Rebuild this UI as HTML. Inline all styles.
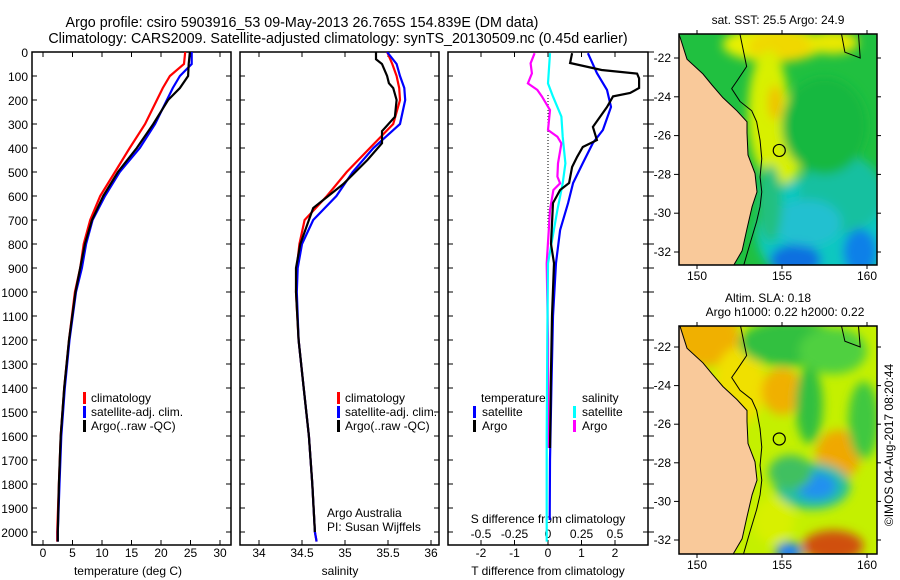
<!DOCTYPE html>
<html><head><meta charset="utf-8"><style>
body{margin:0;background:#fff;}
svg{display:block;font-family:"Liberation Sans",sans-serif;}
text{font-size:12px;fill:#000;}
</style></head><body>
<svg id="fig" width="900" height="580" viewBox="0 0 900 580">
<defs>
<clipPath id="c1"><rect x="32" y="52" width="199" height="493"/></clipPath>
<clipPath id="c2"><rect x="240" y="52" width="199" height="493"/></clipPath>
<clipPath id="c3"><rect x="448" y="52" width="200" height="493"/></clipPath>
<clipPath id="cm1"><rect x="679" y="34" width="198" height="231"/></clipPath>
<clipPath id="cm2"><rect x="679" y="326" width="198" height="228"/></clipPath>
<filter id="bl" x="-50%" y="-50%" width="200%" height="200%"><feGaussianBlur stdDeviation="5"/></filter>
</defs>
<text x="302" y="27" text-anchor="middle" style="font-size:14.3px">Argo profile: csiro 5903916_53 09-May-2013 26.765S 154.839E (DM data)</text>
<text x="338" y="43" text-anchor="middle" style="font-size:14.3px">Climatology: CARS2009. Satellite-adjusted climatology: synTS_20130509.nc (0.45d earlier)</text>
<text x="778" y="24" text-anchor="middle">sat. SST: 25.5 Argo: 24.9</text>
<text x="768" y="302" text-anchor="middle">Altim. SLA: 0.18</text>
<text x="785" y="316" text-anchor="middle">Argo h1000: 0.22 h2000: 0.22</text>
<text transform="translate(893,445) rotate(-90)" text-anchor="middle">©IMOS 04-Aug-2017 08:20:44</text>
<g id="g"></g>
</svg>
<script>
// ---- data ----
const depthsStd = [0,50,100,150,200,300,400,500,600,700,800,900,1000,1200,1400,1600,1800,2000,2040];
const tempClim = [24.1,23.9,21.5,20.3,19.3,17.3,14.7,12.2,9.7,8.0,6.9,6.3,5.4,4.4,3.6,3.0,2.7,2.4,2.4];
const tempSat  = [25.2,25.2,23.2,22.0,21.0,19.0,16.4,13.0,10.5,8.4,7.3,6.6,5.6,4.5,3.7,3.1,2.8,2.5,2.5];
const tempArgo = [24.9,24.7,24.6,23.2,21.2,18.7,15.9,12.7,10.2,8.3,7.1,6.3,5.5,4.4,3.6,3.0,2.7,2.5,2.5];
const salClim = [35.49,35.55,35.6,35.63,35.64,35.56,35.29,35.02,34.79,34.53,34.47,34.44,34.43,34.46,34.52,34.58,34.62,34.65,34.67];
const salSat  = [35.49,35.6,35.64,35.69,35.70,35.64,35.33,35.09,34.9,34.63,34.50,34.45,34.44,34.46,34.52,34.58,34.62,34.65,34.67];
const salArgoDepths = [0,30,50,100,130,150,200,270,330,380,450,550,650,800,900,1000,1200,1400,1600,1800,2000];
const salArgo = [35.36,35.36,35.43,35.49,35.51,35.56,35.6,35.58,35.43,35.43,35.26,34.98,34.63,34.48,34.43,34.43,34.46,34.52,34.58,34.62,34.65];
const dTArgoDepths = [5,46,75,90,110,150,171,185,229,312,367,396,437,479,546,575,629,800,880,1100,1400,1650];
const dTArgo = [0.72,0.66,1.6,2.66,2.72,2.72,2.45,1.94,1.76,1.34,1.46,1.04,0.87,0.72,0.63,0.36,0.15,0.09,0.18,0.12,0.08,0.06];
const dTSatDepths = [5,88,158,229,325,379,463,546,629,742,879,1100,1400,1700,1950];
const dTSat = [1.19,1.46,1.76,1.88,1.64,1.34,1.04,0.75,0.6,0.36,0.24,0.15,0.1,0.06,0.05];
const dSSatDepths = [5,131,186,269,353,464,547,658,881,1200,1600,2040];
const dSSat = [0.015,0,0.037,0.1,0.11,0.13,0.11,0.07,0,-0.005,-0.01,-0.01];
const dSArgoDepths = [5,47,89,131,158,186,242,325,353,381,464,519,547,575,658,881,1200,1650];
const dSArgo = [-0.1,-0.13,-0.12,-0.15,-0.08,-0.045,0.015,0,0.07,0.1,0.075,0.07,0.09,0.04,0.015,-0.01,0,0];
const depthTicks = [0,100,200,300,400,500,600,700,800,900,1000,1100,1200,1300,1400,1500,1600,1700,1800,1900,2000];
const tempTicks = [0,5,10,15,20,25,30];
const salTicks = [34,34.5,35,35.5,36];
const dTTicks = [-2,-1,0,1,2];
const dSTicks = [-0.5,-0.25,0,0.25,0.5];
const latTicks = [-22,-24,-26,-28,-30,-32];
const lonTicks = [150,155,160];
const coastLon = [148.9,149.0,149.41,150.35,150.88,151.53,152.35,152.94,152.94,153.0,153.41,153.53,153.24,152.94,152.65,152.12,151.9];
const coastLat = [-20.7,-20.92,-22.06,-22.82,-23.39,-24.05,-24.72,-25.29,-25.86,-27.0,-27.95,-28.9,-29.66,-30.8,-31.94,-32.74,-32.9];
const contLon = [152.53,152.92,152.34,152.04,152.53,153.22,153.51,153.71,153.81,153.71,153.81,153.71,153.51,153.12,152.73];
const contLat = [-20.78,-22.44,-23.2,-23.58,-24.24,-24.72,-25.29,-26.24,-27.19,-28.14,-28.9,-29.66,-30.42,-31.56,-32.74];
const floatLon = 154.839, floatLat = -26.765;

// ---- scales ----
const yD = d => 52 + d*0.24;
const xT = v => 43 + v*5.9;
const xS = v => 259 + (v-34)*86;
const xdT = v => 548 + v*33.5;
const xdS = v => 548 + v*134;
const mx = lon => 697 + (lon-150)*17;
const my1 = lat => 58 + (-22-lat)*19.4;
const my2 = lat => 347 + (-22-lat)*19.3;

const NS='http://www.w3.org/2000/svg';
const root=document.getElementById('g');
function el(tag,attrs,parent){const e=document.createElementNS(NS,tag);for(const k in attrs)e.setAttribute(k,attrs[k]);(parent||root).appendChild(e);return e;}
function txt(x,y,s,anchor,parent){const t=el('text',{x:x,y:y,'text-anchor':anchor||'start'},parent);t.textContent=s;return t;}

function profile(depths,vals,xf,color,clip,name){
  let d='';
  for(let i=0;i<depths.length;i++){d+=(i?'L':'M')+xf(vals[i]).toFixed(1)+' '+yD(depths[i]).toFixed(1);}
  const p=el('path',{d:d,fill:'none',stroke:color,'stroke-width':2.2,'clip-path':'url(#'+clip+')'});
  
  
}

function panel(x0,w,name){
  const r=el('rect',{x:x0,y:52,width:w,height:493,fill:'none',stroke:'#000','stroke-width':1.5});
  
  
  depthTicks.forEach(d=>{el('line',{x1:x0,x2:x0+5,y1:yD(d),y2:yD(d),stroke:'#000'});el('line',{x1:x0+w-5,x2:x0+w,y1:yD(d),y2:yD(d),stroke:'#000'});});
}
panel(32,199,'temperature-panel');
panel(240,199,'salinity-panel');
panel(448,200,'difference-panel');
depthTicks.forEach(d=>{const t=txt(28,yD(d)+5,String(d),'end');


el('line',{x1:648,x2:654,y1:yD(d),y2:yD(d),stroke:'#000'});});

tempTicks.forEach(v=>{const x=xT(v);el('line',{x1:x,x2:x,y1:540,y2:545,stroke:'#000'});el('line',{x1:x,x2:x,y1:52,y2:57,stroke:'#000'});
const t=txt(x,557,String(v),'middle');

});
salTicks.forEach(v=>{const x=xS(v);el('line',{x1:x,x2:x,y1:540,y2:545,stroke:'#000'});el('line',{x1:x,x2:x,y1:52,y2:57,stroke:'#000'});
const t=txt(x,557,String(v),'middle');

});
dTTicks.forEach(v=>{const x=xdT(v);el('line',{x1:x,x2:x,y1:540,y2:545,stroke:'#000'});el('line',{x1:x,x2:x,y1:52,y2:57,stroke:'#000'});
const t=txt(x,557,String(v),'middle');

});
dSTicks.forEach(v=>{const t=txt(xdS(v),538,String(v),'middle');

});

let t;
t=txt(128,575,'temperature (deg C)','middle');
t=txt(340,575,'salinity','middle');
t=txt(548,575,'T difference from climatology','middle');
t=txt(548,523,'S difference from climatology','middle');
t=txt(327,517,'Argo Australia');
t=txt(327,531,'PI: Susan Wijffels');

// zero line
el('line',{x1:548,x2:548,y1:95,y2:230,stroke:'#000','stroke-dasharray':'1,2'});

profile(depthsStd,tempClim,xT,'#ff0000','c1','temperature-climatology-line');
profile(depthsStd,tempSat,xT,'#0000ff','c1','temperature-satellite-line');
profile(depthsStd,tempArgo,xT,'#000000','c1','temperature-argo-line');
profile(depthsStd,salClim,xS,'#ff0000','c2','salinity-climatology-line');
profile(depthsStd,salSat,xS,'#0000ff','c2','salinity-satellite-line');
profile(salArgoDepths,salArgo,xS,'#000000','c2','salinity-argo-line');
profile(dSArgoDepths,dSArgo,xdS,'#ff00ff','c3','s-diff-argo-line');
profile(dSSatDepths,dSSat,xdS,'#00ffff','c3','s-diff-satellite-line');
profile(dTSatDepths,dTSat,xdT,'#0000ff','c3','t-diff-satellite-line');
profile(dTArgoDepths,dTArgo,xdT,'#000000','c3','t-diff-argo-line');

function legend(mxp,tx,y,color,label,name){
  el('rect',{x:mxp-1,y:y-10,width:3,height:12,fill:color});
  const t=txt(tx,y,label);
  
  
}
legend(84,91,402,'#ff0000','climatology','legend-climatology');
legend(84,91,416,'#0000ff','satellite-adj. clim.','legend-satellite-adj');
legend(84,91,430,'#000000','Argo(..raw -QC)','legend-argo');
legend(338,345,402,'#ff0000','climatology','legend-climatology-sal');
legend(338,345,416,'#0000ff','satellite-adj. clim.','legend-satellite-adj-sal');
legend(338,345,430,'#000000','Argo(..raw -QC)','legend-argo-sal');
t=txt(481,402,'temperature');
t=txt(582,402,'salinity');
legend(474,482,416,'#0000ff','satellite','legend-t-satellite');
legend(474,482,430,'#000000','Argo','legend-t-argo');
legend(574,582,416,'#00ffff','satellite','legend-s-satellite');
legend(574,582,430,'#ff00ff','Argo','legend-s-argo');

// ---- maps ----
function drawMap(my,top,h,clip,blobs,base,name){
  const g=el('g',{'clip-path':'url(#'+clip+')'});
  
  
  el('rect',{x:679,y:top,width:198,height:h,fill:base},g);
  const bg=el('g',{filter:'url(#bl)'},g);
  blobs.forEach(b=>{el('ellipse',{cx:mx(b[0]),cy:my(b[1]),rx:b[2]*17,ry:b[3]*19.4,fill:b[4]},bg);});
  let sp='';
  for(let i=0;i<contLon.length;i++) sp+=(i?'L':'M')+mx(contLon[i])+' '+my(contLat[i]);
  let lp='M679 '+(top-5);
  for(let i=0;i<coastLon.length;i++) lp+='L'+mx(coastLon[i]).toFixed(1)+' '+my(coastLat[i]).toFixed(1);
  lp+='L679 '+(top+h+5)+'Z';
  const land=el('path',{d:lp,fill:'#f9c99a',stroke:'#000','stroke-width':1},g);
  
  
  el('path',{d:sp,fill:'none',stroke:'#000','stroke-width':1},g);
  el('path',{d:'M'+mx(158.5)+' '+top+'L'+mx(158.7)+' '+my(-21.7)+'L'+mx(159.6)+' '+my(-22)+'L'+mx(159.5)+' '+top,fill:'none',stroke:'#000'},g);
  const c=el('circle',{cx:mx(floatLon),cy:my(floatLat),r:6,fill:'none',stroke:'#000','stroke-width':1.2},g);
  
  
  const fr=el('rect',{x:679,y:top,width:198,height:h,fill:'none',stroke:'#000','stroke-width':1.5});
  
  
  latTicks.forEach(la=>{const y=my(la);el('line',{x1:674,x2:679,y1:y,y2:y,stroke:'#000'});el('line',{x1:877,x2:881,y1:y,y2:y,stroke:'#000'});
  const tt=txt(671,y+4,String(la),'end');
  
  });
  lonTicks.forEach(lo=>{const x=mx(lo);el('line',{x1:x,x2:x,y1:top+h,y2:top+h+4,stroke:'#000'});el('line',{x1:x,x2:x,y1:top-4,y2:top,stroke:'#000'});
  const tt=txt(x,top+h+15,String(lo),'middle');
  
  });
}
const sstBlobs=[
 [154.5,-21.3,3,0.9,'#e8f000'],[155,-21.4,2,0.8,'#f0d800'],[158,-21.2,1.5,0.6,'#e8e800'],
 [154.2,-24.8,1.2,3.2,'#d8f000'],[154.6,-24.3,0.4,0.9,'#f0c000'],[155,-27,1.2,1.5,'#d8f000'],
 [157.5,-31,4,3,'#10c8c0'],[158.5,-29,2.5,2,'#18c0a0'],[155.8,-32.4,1.5,0.8,'#1070e0'],[159.6,-32,1,1.2,'#1080e8'],[156.5,-30.5,2,1.2,'#20c0d0'],
 [157.5,-25.5,2.5,2.5,'#18b840'],[154.3,-29.5,0.7,2,'#20c080']];
drawMap(my1,34,231,'cm1',sstBlobs,'#20c040','sst-map');
const slaBlobs=[
 [150.5,-21.5,2,1.5,'#f0b000'],[152.5,-24,1.5,2,'#f0e000'],[155.5,-21.8,3,1.2,'#30c040'],[158,-22.2,2,1.2,'#50d040'],
 [155,-24.3,1.2,1.2,'#f0b000'],[156.6,-25,0.8,2,'#30c040'],[158.3,-27.6,1.3,1.3,'#f0a800'],[159.8,-25.8,0.9,2,'#40c840'],
 [156.8,-29.2,2.2,1.2,'#20c0a0'],[157,-29.2,1.2,0.7,'#2090f0'],[155.5,-28.5,1.3,0.9,'#40c060'],
 [158,-32.3,1.8,0.8,'#d05010'],[155.4,-32.6,0.8,0.5,'#2080f0'],[154.5,-31,1.2,1.2,'#d8f000']];
drawMap(my2,326,228,'cm2',slaBlobs,'#c4f000','sla-map');
</script>
</body></html>
